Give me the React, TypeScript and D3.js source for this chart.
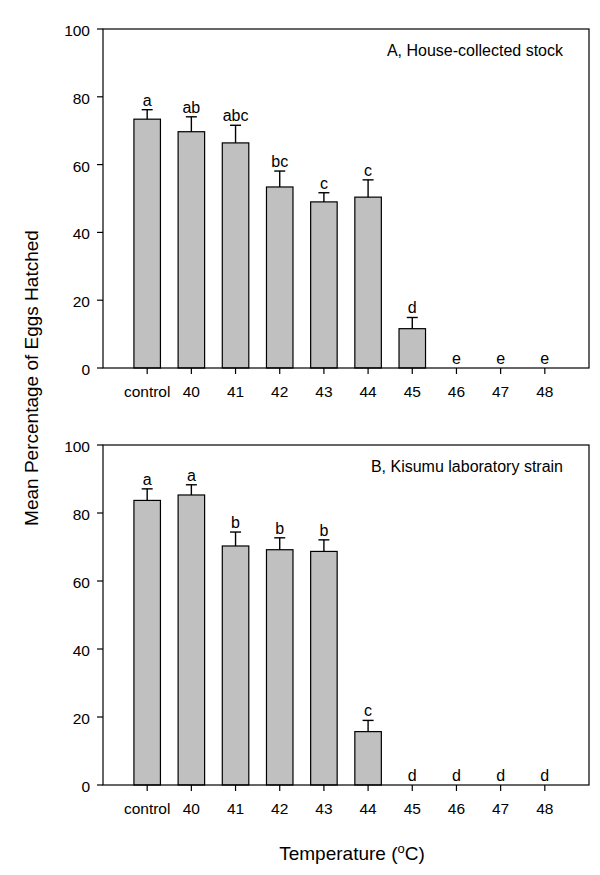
import React from "react";
import * as d3 from "d3";

const categories = ["control", "40", "41", "42", "43", "44", "45", "46", "47", "48"];
const yTicks = [0, 20, 40, 60, 80, 100];

const houseMeans = [73.4, 69.7, 66.4, 53.4, 49.0, 50.4, 11.6, 0, 0, 0];
const houseErr = [2.8, 4.4, 5.2, 4.7, 2.7, 5.1, 3.3, 0, 0, 0];
const houseLetters = ["a", "ab", "abc", "bc", "c", "c", "d", "e", "e", "e"];

const kisumuMeans = [83.7, 85.3, 70.3, 69.2, 68.7, 15.7, 0, 0, 0, 0];
const kisumuErr = [3.4, 3.0, 4.1, 3.5, 3.4, 3.3, 0, 0, 0, 0];
const kisumuLetters = ["a", "a", "b", "b", "b", "c", "d", "d", "d", "d"];

const FONT = "'Liberation Sans', Arial, sans-serif";

type PanelProps = {
  top: number;
  bottom: number;
  means: number[];
  errs: number[];
  letters: string[];
  title: string;
};

const left = 103;
const right = 589;

function Panel({ top, bottom, means, errs, letters, title }: PanelProps) {
  const x = d3.scalePoint<string>().domain(categories).range([left, right]).padding(1);
  const y = d3.scaleLinear().domain([0, 100]).range([bottom, top]);
  const step = x.step();
  const bw = step * 0.6;
  const cap = 5.5;
  return (
    <g>
      {means.map((m, i) => {
        const cx = x(categories[i])!;
        const e = errs[i];
        return (
          <g key={i}>
            {m > 0 && (
              <rect
                x={cx - bw / 2}
                y={y(m)}
                width={bw}
                height={y(0) - y(m)}
                fill="#c0c0c0"
                stroke="#000"
                strokeWidth={1.2}
              />
            )}
            {e > 0 && (
              <g stroke="#000" strokeWidth={1.4}>
                <line x1={cx} x2={cx} y1={y(m)} y2={y(m + e)} />
                <line x1={cx - cap} x2={cx + cap} y1={y(m + e)} y2={y(m + e)} />
              </g>
            )}
            <text
              x={cx}
              y={y(m + e) - 4}
              textAnchor="middle"
              fontSize={16}
              fontFamily={FONT}
            >
              {letters[i]}
            </text>
          </g>
        );
      })}
      <rect x={left} y={top} width={right - left} height={bottom - top} fill="none" stroke="#000" strokeWidth={1.2} />
      {yTicks.map((t) => (
        <g key={t}>
          <line x1={left - 6} x2={left} y1={y(t)} y2={y(t)} stroke="#000" strokeWidth={1.2} />
          <text x={left - 13} y={y(t) + 1.5} dy="0.35em" textAnchor="end" fontSize={15.5} fontFamily={FONT}>
            {t}
          </text>
        </g>
      ))}
      {categories.map((c) => (
        <g key={c}>
          <line x1={x(c)!} x2={x(c)!} y1={bottom} y2={bottom + 6} stroke="#000" strokeWidth={1.2} />
          <text x={x(c)!} y={bottom + 24} dy="0.35em" textAnchor="middle" fontSize={15.5} fontFamily={FONT}>
            {c}
          </text>
        </g>
      ))}
      <text x={563} y={top + 21} dy="0.35em" textAnchor="end" fontSize={16} fontFamily={FONT}>
        {title}
      </text>
    </g>
  );
}

export default function App() {
  return (
    <svg width={600} height={875} style={{ position: "absolute", left: 0, top: 0, background: "#fff" }}>
      <rect x={0} y={0} width={600} height={875} fill="#fff" />
      <Panel
        top={29}
        bottom={368}
        means={houseMeans}
        errs={houseErr}
        letters={houseLetters}
        title="A, House-collected stock"
      />
      <Panel
        top={445}
        bottom={785}
        means={kisumuMeans}
        errs={kisumuErr}
        letters={kisumuLetters}
        title="B, Kisumu laboratory strain"
      />
      <text
        transform="translate(31,378) rotate(-90)"
        textAnchor="middle"
        dy="0.35em"
        fontSize={19}
        fontFamily={FONT}
      >
        Mean Percentage of Eggs Hatched
      </text>
      <text x={352} y={853} dy="0.35em" textAnchor="middle" fontSize={19} fontFamily={FONT}>
        Temperature (<tspan dy="-7" fontSize={13}>o</tspan>
        <tspan dy="7">C)</tspan>
      </text>
    </svg>
  );
}
